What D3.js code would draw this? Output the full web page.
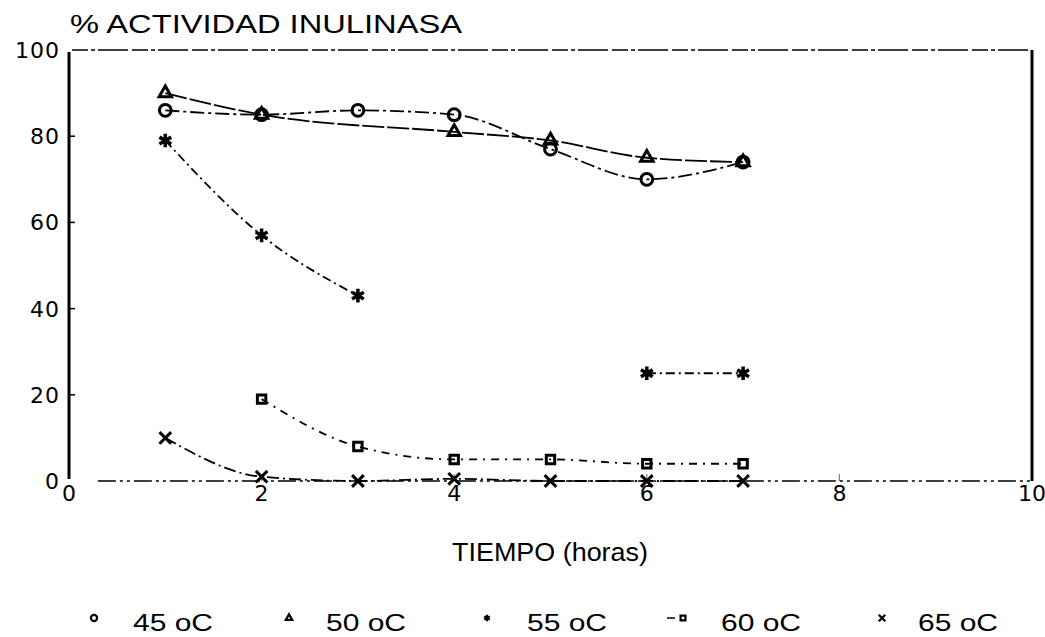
<!DOCTYPE html>
<html lang="es">
<head>
<meta charset="UTF-8" />
<title>% Actividad inulinasa</title>
<style>
  html, body { margin: 0; padding: 0; background: #fff; }
  svg { display: block; font-family: "Liberation Sans", "DejaVu Sans", sans-serif; }
</style>
</head>
<body>
<script src="https://d3js.org/d3.v7.min.js"></script>
<script>
// time points (horas)
const horas = [1, 2, 3, 4, 5, 6, 7];
// % actividad inulinasa per temperature (null = not measured)
const t45 = [86, 85, 86, 85, 77, 70, 74];
const t50 = [90, 85, null, 81, 79, 75, 74];
const t55 = [79, 57, 43, null, null, 25, 25];
const t60 = [null, 19, 8, 5, 5, 4, 4];
const t65 = [10, 1, 0, 0.5, 0, 0, 0];
const seriesNames = ["45 oC", "50 oC", "55 oC", "60 oC", "65 oC"];
const xTicks = [0, 2, 4, 6, 8, 10];
const yTicks = [0, 20, 40, 60, 80, 100];

const width = 1045, height = 637;
const margin = {top: 50, right: 13, bottom: 156, left: 69};

const svg = d3.select("body").append("svg")
  .attr("width", width)
  .attr("height", height);

const x = d3.scaleLinear().domain([0, 10]).range([margin.left, width - margin.right]);
const y = d3.scaleLinear().domain([0, 100]).range([height - margin.bottom, margin.top]);

// frame: solid left/right, broken top/bottom
svg.append("line")
  .attr("x1", x(0)).attr("x2", x(0)).attr("y1", y(100) + 2).attr("y2", y(0) - 2)
  .attr("stroke", "#000").attr("stroke-width", 3);
svg.append("line")
  .attr("x1", x(10)).attr("x2", x(10)).attr("y1", y(100)).attr("y2", y(0))
  .attr("stroke", "#000").attr("stroke-width", 3);
svg.append("line")
  .attr("x1", x(0) + 3).attr("x2", x(10)).attr("y1", y(100)).attr("y2", y(100))
  .attr("stroke", "#000").attr("stroke-width", 1.5)
  .attr("stroke-dasharray", "16 3 4 3 30 4");
svg.append("line")
  .attr("x1", x(0.3)).attr("x2", x(10)).attr("y1", y(0)).attr("y2", y(0))
  .attr("stroke", "#000").attr("stroke-width", 1.3)
  .attr("stroke-dasharray", "18 4 3 4 3 4");

// y ticks + labels
const yAxis = svg.append("g");
yAxis.selectAll("line").data(yTicks.slice(1, -1)).join("line")
  .attr("x1", x(0)).attr("x2", x(0) + 6)
  .attr("y1", d => y(d)).attr("y2", d => y(d))
  .attr("stroke", "#000").attr("stroke-width", 1.5);
yAxis.selectAll("text").data(yTicks).join("text")
  .attr("x", x(0) - 9).attr("y", d => y(d))
  .attr("dy", "0.36em")
  .attr("text-anchor", "end")
  .attr("font-family", "DejaVu Sans")
  .attr("font-size", 22)
  .attr("letter-spacing", 1)
  .text(d => d);

// x ticks + labels
const xAxis = svg.append("g");
xAxis.selectAll("line").data(xTicks.slice(1, -1)).join("line")
  .attr("x1", d => x(d)).attr("x2", d => x(d))
  .attr("y1", y(0)).attr("y2", y(0) - 7)
  .attr("stroke", "#000").attr("stroke-width", 1.2)
  .attr("stroke-opacity", 0.5);
xAxis.selectAll("text").data(xTicks).join("text")
  .attr("x", d => x(d)).attr("y", y(0) + 20)
  .attr("text-anchor", "middle")
  .attr("font-family", "DejaVu Sans")
  .attr("font-size", 22)
  .text(d => d);

// titles (wide lettering, glyphs stretched)
svg.append("text")
  .attr("x", 70).attr("y", 33)
  .attr("font-size", 26)
  .attr("textLength", 392)
  .attr("lengthAdjust", "spacingAndGlyphs")
  .text("% ACTIVIDAD INULINASA");
svg.append("text")
  .attr("x", 452).attr("y", 561)
  .attr("font-size", 25)
  .attr("textLength", 196)
  .attr("lengthAdjust", "spacingAndGlyphs")
  .text("TIEMPO (horas)");

const data = [t45, t50, t55, t60, t65];
const symbols = [d3.symbolCircle, d3.symbolTriangle2, d3.symbolAsterisk, d3.symbolSquare2, d3.symbolTimes];
const symSize = [110, 110, 130, 90, 90];
const dashes = ["14 4 3 4", "22 3", "9 4 2 4", "8 6 2 6", "12 4 2 4"];

const line = d3.line()
  .defined(d => d[1] !== null)
  .x(d => x(d[0]))
  .y(d => y(d[1]))
  .curve(d3.curveMonotoneX);

data.forEach((vals, i) => {
  let pts = horas.map((h, j) => [h, vals[j]]);
  // 45/50/60/65 lines run through missing points, 55 is broken
  if (i !== 2) pts = pts.filter(p => p[1] !== null);
  svg.append("path")
    .datum(pts)
    .attr("d", line)
    .attr("fill", "none")
    .attr("stroke", "#000")
    .attr("stroke-width", 1.8)
    .attr("stroke-dasharray", dashes[i]);
  svg.append("g").selectAll("path").data(pts.filter(p => p[1] !== null)).join("path")
    .attr("transform", d => `translate(${x(d[0])},${y(d[1])})`)
    .attr("d", d3.symbol(symbols[i], symSize[i]))
    .attr("fill", i === 2 ? "#000" : "none")
    .attr("stroke", "#000")
    .attr("stroke-width", i === 2 ? 3.5 : 3);
});

// legend
const legSym = [94, 289, 487, 683, 882];
const legText = [133, 326, 527, 721, 918];
const legend = svg.append("g").attr("transform", "translate(0,631)");
seriesNames.forEach((name, i) => {
  legend.append("path")
    .attr("transform", `translate(${legSym[i]},-13)`)
    .attr("d", d3.symbol(symbols[i], 30))
    .attr("fill", i === 2 ? "#000" : "none")
    .attr("stroke", "#000")
    .attr("stroke-width", 2.2);
  if (i === 3) {
    legend.append("line")
      .attr("x1", legSym[i] - 16).attr("x2", legSym[i] - 8)
      .attr("y1", -13).attr("y2", -13)
      .attr("stroke", "#000").attr("stroke-width", 1.5);
  }
  legend.append("text")
    .attr("x", legText[i]).attr("y", 0)
    .attr("font-size", 23)
    .attr("textLength", 80)
    .attr("lengthAdjust", "spacingAndGlyphs")
    .text(name);
});
</script>
</body>
</html>
